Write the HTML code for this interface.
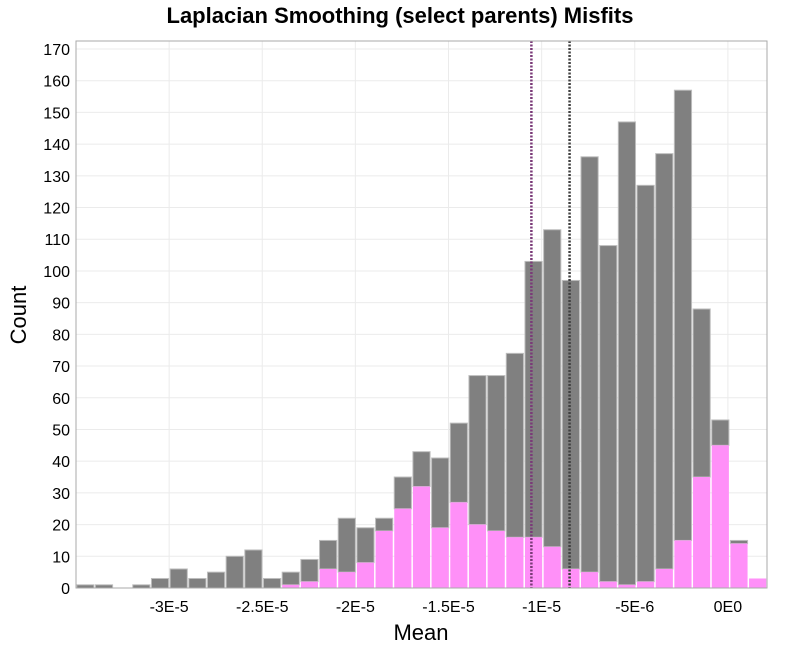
<!DOCTYPE html>
<html><head><meta charset="utf-8"><style>
body{margin:0;background:#fff;}
svg{font-family:"Liberation Sans","DejaVu Sans",sans-serif;}
</style></head><body>
<svg id="c" width="800" height="650">
<text x="400" y="23" text-anchor="middle" font-size="22" font-weight="bold">Laplacian Smoothing (select parents) Misfits</text>
<text x="26" y="315" text-anchor="middle" font-size="22" transform="rotate(-90 26 315)">Count</text>
<text x="421" y="640" text-anchor="middle" font-size="22">Mean</text>
<g id="grid"></g><g id="bars"></g><g id="lines"></g><g id="axes"></g>
</svg>
<script>
const totals=[1,1,0,1,3,6,3,5,10,12,3,5,9,15,22,19,22,35,43,41,52,67,67,74,103,113,97,136,108,147,127,137,157,88,53,15,3];
const pinks=[0,0,0,0,0,0,0,0,0,0,0,1,2,6,5,8,18,25,32,19,27,20,18,16,16,13,6,5,2,1,2,6,15,35,45,14,3];
const binStart=-3.5e-5;
const binWidth=1.0027e-6;
const xTicks=[-3e-5,-2.5e-5,-2e-5,-1.5e-5,-1e-5,-5e-6,0];
const xTickLabels=["-3E-5","-2.5E-5","-2E-5","-1.5E-5","-1E-5","-5E-6","0E0"];
const yTicks=[0,10,20,30,40,50,60,70,80,90,100,110,120,130,140,150,160,170];
const meanLines=[-1.055e-5,-8.5e-6];
const L=76,R=767,T=41,B=588;
const xmin=-3.5e-5,xmax=2.1e-6;
const X=v=>L+(v-xmin)/(xmax-xmin)*(R-L);
const Y=v=>B-v/170*(B-49);
const NS="http://www.w3.org/2000/svg";
function mk(t,a,p){const e=document.createElementNS(NS,t);for(const k in a)e.setAttribute(k,a[k]);p.appendChild(e);return e;}
const g=document.getElementById('grid'),b=document.getElementById('bars'),ln=document.getElementById('lines'),ax=document.getElementById('axes');
yTicks.forEach(v=>{
 const l=mk('line',{x1:L,x2:R,y1:Y(v),y2:Y(v),stroke:'#ebebeb'},g);
 
 const t=mk('text',{x:70,y:Y(v)+6,'text-anchor':'end','font-size':16},ax);t.textContent=v;
 
});
xTicks.forEach((v,i)=>{
 const l=mk('line',{x1:X(v),x2:X(v),y1:T,y2:B,stroke:'#ebebeb'},g);
 
 const t=mk('text',{x:X(v),y:612,'text-anchor':'middle','font-size':16},ax);t.textContent=xTickLabels[i];
 
});
totals.forEach((v,i)=>{
 const x0=X(binStart+i*binWidth),x1=X(binStart+(i+1)*binWidth),w=x1-x0-1.5;
 if(v>pinks[i]){const r=mk('rect',{x:x0+0.75,y:Y(v),width:w,height:Y(pinks[i])-Y(v),fill:'#808080',stroke:'#bdbdbd','stroke-width':1},b);
 }
 if(pinks[i]>0){const r=mk('rect',{x:x0+0.75,y:Y(pinks[i]),width:w,height:B-Y(pinks[i]),fill:'#ff90f8'},b);
 }
});
const cols=['#7a3a78','#404040'];
meanLines.forEach((v,i)=>{
 const l=mk('line',{x1:X(v),x2:X(v),y1:T,y2:B,stroke:cols[i],'stroke-width':2.5,'stroke-dasharray':'2,1.5'},ln);
 
});
const f=mk('rect',{x:L,y:T,width:R-L,height:B-T,fill:'none',stroke:'#aaaaaa'},ax);

</script>
</body></html>
